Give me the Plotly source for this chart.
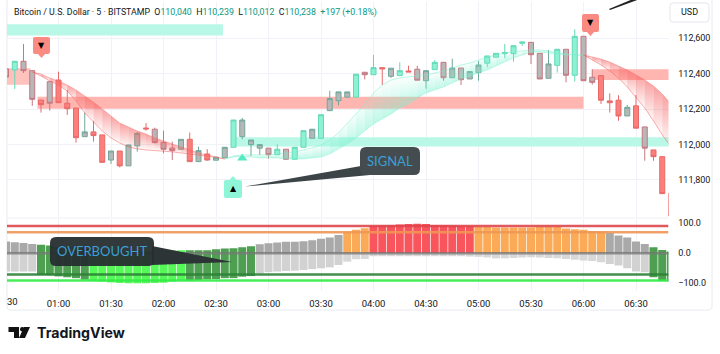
import pandas as pd
import plotly.graph_objects as go

W, H = 720, 354
times = pd.date_range("2025-01-01 00:30", "2025-01-01 06:50", freq="5min")

# candle styles: T teal, R red, GT grey body with teal edge, GR grey body with red edge
styles = ["GR","T","GR","GR","R","GR","R","R","R","GT","R","R","GT","R","GT","GT","R","GR","GR","GR","GT","R","GT","R","GT","GT",
          "T","GT","GT","GT","GR","T","GR","T","T","GT","T","GT","GT","GT","T","GR","T","R","GT","T","R","GR","GT","T","GR","GT","GR","GT",
          "GT","T","T","T","T","T","GR","GR","GT","T","GR","T","GR","GR","R","R","R","GT","R","GR","R","R","R"]
body_top = [112427,112470,112470,112417,112251,112355,112364,112233,112206,112071,112071,112054,111963,111963,111997,112063,112093,112086,112012,111980,112029,112029,111965,111946,111928,111984,
            112138,112138,112025,111999,111979,111973,111973,111984,112078,112086,112168,112259,112297,112297,112397,112408,112434,112434,112431,112417,112415,112425,112417,112464,112464,112432,112432,112412,
            112449,112500,112515,112519,112558,112579,112577,112515,112455,112538,112538,112611,112611,112380,112389,112246,112250,112210,112218,112099,111969,111931,111724]
body_bot = [112381,112421,112417,112255,112225,112233,112236,112202,112038,112044,112050,111899,111912,111879,111879,111992,112088,112010,111973,111965,111973,111903,111903,111912,111911,111925,
            111984,112044,111999,111979,111942,111942,111916,111916,111984,112035,112035,112191,112247,112267,112267,112394,112394,112427,112385,112389,112410,112363,112360,112423,112377,112377,112366,112370,
            112406,112459,112493,112513,112513,112572,112507,112370,112374,112447,112391,112391,112360,112351,112250,112236,112161,112161,112092,111979,111931,111722,111596]
wick_high = [112432,112470,112568,112417,112251,112355,112411,112308,112206,112180,112133,112054,111963,111963,111997,112072,112121,112095,112078,112016,112029,112067,111988,111973,111928,111984,
             112138,112150,112025,111999,111979,112001,111973,111984,112078,112086,112168,112304,112297,112297,112397,112408,112506,112434,112431,112464,112445,112444,112417,112477,112464,112485,112432,112412,
             112472,112500,112515,112568,112558,112579,112577,112515,112534,112538,112538,112651,112611,112425,112389,112289,112278,112223,112280,112099,111969,111931,111724]
wick_low = [112376,112314,112404,112218,112180,112191,112236,112167,112010,112044,112016,111899,111890,111870,111879,111959,112078,112006,111950,111912,111973,111903,111903,111908,111911,111925,
            111984,112029,111935,111941,111920,111942,111916,111916,111984,112035,112035,112191,112221,112267,112267,112368,112394,112336,112376,112389,112410,112363,112315,112423,112360,112377,112336,112370,
            112360,112436,112493,112487,112468,112557,112455,112370,112374,112406,112351,112355,112360,112338,112229,112180,112134,112161,112092,111908,111908,111722,111596]

# ribbons: bars they span, strong edge and faint edge
red1_start, red1_upper, red1_lower = "2025-01-01 00:45", [112410,112398,112376,112359,112336,112308,112274,112240,112201,112161,112121,112099,112076,112059,112037,112020,112003,111986,111969,111952,111941,111929,111918], [112410,112387,112359,112336,112302,112246,112178,112127,112076,112037,112008,111986,111975,111969,111966,111963,111958,111952,111946,111941,111935,111927,111918]
teal_start = "2025-01-01 02:35"
teal_upper = [111918,111935,111941,111941,111941,111941,111946,111952,111958,111969,111980,111997,112025,112065,112116,112172,112229,112291,112336,112364,112376,112381,112387,112393,112404,112415,112432,112449,112460,112477,112494,112506,112517,112523,112528,112534,112534,112528,112517,112511,112506,112506]
teal_lower = [111918,111929,111929,111929,111924,111924,111924,111918,111918,111918,111924,111929,111946,111975,112003,112037,112076,112116,112144,112172,112206,112229,112263,112291,112308,112325,112347,112370,112387,112404,112421,112444,112466,112489,112506,112523,112523,112517,112511,112506,112506,112506]
red2_start = "2025-01-01 06:00"
red2_upper = [112506,112494,112483,112466,112443,112421,112393,112364,112330,112285,112229]
red2_lower = [112506,112477,112449,112415,112375,112325,112268,112206,112133,112054,111986]

# supply/demand zones: start, end, top price, bottom price, colour
zone_start = ["2025-01-01 00:28","2025-01-01 00:28","2025-01-01 00:48","2025-01-01 02:40","2025-01-01 06:05"]
zone_end   = ["2025-01-01 02:34","2025-01-01 00:44","2025-01-01 06:00","2025-01-01 06:52","2025-01-01 06:52"]
zone_top   = [112679,112430,112270,112041,112425]
zone_bot   = [112615,112338,112202,111988,112364]
zone_color = ["#b9f8e6","#ffc2bd","#ffb6b1","#b9f8e6","#ffb6b1"]

# oscillator
osc_up = [39,37,34,31,28,26,22,20,19,17,14,12,11,10,9,8,8,8,9,9,10,10,10,10,13,16,
          17,20,23,30,33,36,38,38,40,43,48,52,61,70,78,83,91,92,93,96,97,98,97,94,93,92,91,90,
          87,87,86,86,86,86,86,87,87,87,82,80,78,74,72,67,59,52,39,31,20,11,6]
osc_down = [-61,-61,-61,-61,-72,-73,-77,-80,-83,-88,-92,-94,-97,-99,-100,-100,-100,-99,-98,-94,-91,-91,-89,-87,-86,-83,
            -83,-78,-76,-67,-63,-61,-59,-58,-56,-53,-50,-47,-39,-28,-20,-19,-10,-10,-10,-10,-10,-10,-10,-10,-10,-10,-10,-11,
            -12,-14,-17,-17,-16,-14,-13,-14,-16,-17,-19,-22,-24,-26,-30,-36,-41,-50,-61,-63,-80,-92,-94]
osc_zone = ["g"]*4+["d"]*6+["l"]*11+["d"]*8+["g"]*10+["o"]*3+["r"]*12+["o"]*15+["g"]*5+["d"]*3
osc_levels = [91,70,0,-71,-91]
osc_level_colors = ["rgba(222,70,75,.9)","rgba(238,150,85,.9)","rgba(115,115,115,.75)","rgba(45,130,55,.9)","rgba(50,235,70,.9)"]

price_ticks = [111800,112000,112200,112400,112600]
osc_ticks = [100,0,-100]
osc_tick_text = ["100.0","0.0","−100.0"]
time_ticks = ["01:00","01:30","02:00","02:30","03:00","03:30","04:00","04:30","05:00","05:30","06:00","06:30"]

LEFT, RIGHT = 7, 668.5
TOP1, BOT1, TOP2, BOT2 = 2, 217, 219, 291
PX_PER_MIN = 8.75/5
t0 = pd.Timestamp("2025-01-01 01:00")
def xr(px):
    return t0 + pd.Timedelta(minutes=(px-58.5)/PX_PER_MIN)

def fx(px): return px/W
def fy(py): return 1-py/H

fig = go.Figure()

def ribbon(start, strong, faint, rgb, strong_on_top, alpha):
    ts = pd.date_range(start, periods=len(strong), freq="5min")
    for i in range(len(ts)-1):
        a, b = strong[i], strong[i+1]
        c, d = faint[i], faint[i+1]
        if a == c and b == d:
            continue
        opaque, clear = f"rgba({rgb},{alpha})", f"rgba({rgb},0.02)"
        scale = [[0,clear],[1,opaque]] if strong_on_top else [[0,opaque],[1,clear]]
        fig.add_trace(go.Scatter(x=[ts[i],ts[i+1],ts[i+1],ts[i],ts[i]], y=[a,b,d,c,a], mode="lines", line=dict(width=0),
                                 fill="toself", fillgradient=dict(type="vertical",colorscale=scale),
                                 hoverinfo="skip", showlegend=False))
    fig.add_trace(go.Scatter(x=ts,y=faint,mode="lines",line=dict(color=f"rgba({rgb},.5)",width=1),hoverinfo="skip"))
    fig.add_trace(go.Scatter(x=ts,y=strong,mode="lines",line=dict(color=f"rgba({rgb},.35)",width=1),hoverinfo="skip"))

ribbon(red1_start, red1_upper, red1_lower, "245,95,95", True, .6)
ribbon(teal_start, teal_lower, teal_upper, "120,240,205", False, .5)
ribbon(red2_start, red2_upper, red2_lower, "245,95,95", True, .6)

style_colors = {"T":("#8df2d3","#63d8b6"),"R":("#fb7f7a","#e9696a"),
                "GT":("#b7b7b7","#6fa89b"),"GR":("#b7b7b7","#c87680")}
for key,(fill,edge) in style_colors.items():
    up = key in ("T","GT")
    o,h,l,c = [],[],[],[]
    for s,t,b,hi,lo in zip(styles,body_top,body_bot,wick_high,wick_low):
        if s==key:
            o.append(b if up else t); c.append(t if up else b); h.append(hi); l.append(lo)
        else:
            o.append(None); c.append(None); h.append(None); l.append(None)
    side = dict(fillcolor=fill,line=dict(color=edge,width=1))
    fig.add_trace(go.Candlestick(x=times,open=o,high=h,low=l,close=c,increasing=side,decreasing=side,
                                 whiskerwidth=0,hoverinfo="skip",showlegend=False,xaxis="x",yaxis="y"))

signal_time = ["2025-01-01 02:45"]
signal_price = [111922]
fig.add_trace(go.Scatter(x=signal_time,y=signal_price,mode="markers",marker=dict(symbol="triangle-up",size=9,color="#55e9c4"),hoverinfo="skip"))

zone_colors_up = {"g":"#a9a9a9","d":"#4f9f52","l":"#56f858","o":"#fbab57","r":"#f9555c"}
zone_colors_dn = {"g":"#d2d2d2","d":"#4f9f52","l":"#56f858","o":"#d8d8d8","r":"#d8d8d8"}
fig.add_trace(go.Bar(x=times,y=osc_up,marker=dict(color=[zone_colors_up[z] for z in osc_zone],line=dict(width=0)),xaxis="x2",yaxis="y2",hoverinfo="skip"))
fig.add_trace(go.Bar(x=times,y=osc_down,marker=dict(color=[zone_colors_dn[z] for z in osc_zone],line=dict(width=0)),xaxis="x2",yaxis="y2",hoverinfo="skip"))
for lv,col in zip(osc_levels,osc_level_colors):
    fig.add_trace(go.Scatter(x=[xr(LEFT),xr(RIGHT)],y=[lv,lv],mode="lines",line=dict(color=col,width=2.5),xaxis="x2",yaxis="y2",hoverinfo="skip"))

shapes=[]
for s,e,t,b,c in zip(zone_start,zone_end,zone_top,zone_bot,zone_color):
    shapes.append(dict(type="rect",xref="x",yref="y",x0=s,x1=e,y0=b,y1=t,fillcolor=c,line=dict(width=0),layer="between"))

def rounded(x0,y0,x1,y1,r):
    P=lambda x,y:f"{fx(x):.5f},{fy(y):.5f}"
    return (f"M{P(x0+r,y0)}L{P(x1-r,y0)}Q{P(x1,y0)} {P(x1,y0+r)}L{P(x1,y1-r)}Q{P(x1,y1)} {P(x1-r,y1)}"
            f"L{P(x0+r,y1)}Q{P(x0,y1)} {P(x0,y1-r)}L{P(x0,y0+r)}Q{P(x0,y0)} {P(x0+r,y0)}Z")
def poly(pts):
    return "M"+"L".join(f"{fx(x):.5f},{fy(y):.5f}" for x,y in pts)+"Z"
def overlay(path,fill,line=None,layer="above"):
    shapes.append(dict(type="path",xref="paper",yref="paper",path=path,fillcolor=fill,
                       line=dict(width=1 if line else 0,color=line or "rgba(0,0,0,0)"),layer=layer))

# chart frame and pane separator
overlay(rounded(7,-2,712,310,4),"rgba(0,0,0,0)","#e8eaf0","below")
shapes.append(dict(type="line",xref="paper",yref="paper",x0=fx(7),x1=fx(668),y0=fy(218),y1=fy(218),line=dict(color="#eceef3",width=1),layer="below"))
overlay(rounded(670,3,709,22,3),"#ffffff","#e4e6ec")

# flags
for x0,x1,y0,y1,down,color in [(33,50,37,54,True,"#fa8b82"),(582,599,14,32,True,"#fa8b82"),(224,242,180,198,False,"#8ff5d8")]:
    overlay(rounded(x0,y0,x1,y1,2),color)
    mid=(x0+x1)/2
    if down: overlay(poly([(mid-4,y1-.5),(mid+4,y1-.5),(mid,y1+4)]),color)
    else: overlay(poly([(mid-4,y0+.5),(mid+4,y0+.5),(mid,y0-4)]),color)

# callouts
overlay(poly([(361,166),(370,175),(245,186.5)]),"#3d4448")
overlay(rounded(360,147,420,175,6),"#444c50")
overlay(poly([(152,246),(152,265),(232,262)]),"#2d3436")
overlay(rounded(50,237,154,266,6),"rgba(38,46,48,.95)")
overlay(poly([(609,9),(633,-1),(640,-1),(610,10)]),"#222222")

# TradingView logo
overlay(poly([(8.5,327),(19,327),(19,338),(14,338),(14,332),(8.5,332)]),"#111111")
overlay(rounded(20,327,24.5,331.5,2.2),"#111111")
overlay(poly([(24,327),(30,327),(25,338),(19,338)]),"#111111")

BLUE="#3c9fd6"
def note(px,py,text,font,xanchor="center"):
    return dict(x=fx(px),y=fy(py),xref="paper",yref="paper",xanchor=xanchor,yanchor="middle",showarrow=False,text=text,font=font)
ann=[
 note(11.5,12,('<span style="color:#131722">Bitcoin / U.S. Dollar · 5 · BITSTAMP  O</span><span style="color:#089981">110,040</span>'
            '<span style="color:#131722">  H</span><span style="color:#089981">110,239</span><span style="color:#131722">  L</span><span style="color:#089981">110,012</span>'
            '<span style="color:#131722">  C</span><span style="color:#089981">110,238</span><span style="color:#089981">  +197 (+0.18%)</span>'),
      dict(family="Roboto",size=8.8),"left"),
 note(689.5,12.5,"USD",dict(family="Roboto",size=9,color="#131722")),
 note(12.5,301,"30",dict(family="Roboto",size=9.5,color="#131722")),
 note(390,161,"SIGNAL",dict(family="Lato",size=13,color=BLUE)),
 note(102,250.5,"OVERBOUGHT",dict(family="Lato",size=13,color=BLUE)),
 note(34.5,332.5,"<b>TradingView</b>",dict(family="Inter",size=14.2,color="#131722"),"left"),
 note(233,188.5,"▲",dict(family="DejaVu Sans",size=8,color="#000000")),
 note(41.5,45,"▼",dict(family="DejaVu Sans",size=8,color="#000000")),
 note(590.5,22.5,"▼",dict(family="DejaVu Sans",size=8,color="#000000")),
]

grid="#f0f2f7"
tick_font=dict(family="Roboto",size=9,color="#131722")
time_font=dict(family="Roboto",size=9.5,color="#131722")
tick_dates=[f"2025-01-01 {t}" for t in time_ticks]
fig.update_layout(
    width=W,height=H,margin=dict(l=0,r=0,t=0,b=0),paper_bgcolor="white",plot_bgcolor="white",
    showlegend=False,barmode="overlay",boxmode="overlay",boxgap=0.18,bargap=0.08,shapes=shapes,annotations=ann,
    xaxis=dict(domain=[fx(LEFT),fx(RIGHT)],range=[xr(LEFT),xr(RIGHT)],anchor="y",type="date",rangeslider=dict(visible=False),
               tickvals=tick_dates,showticklabels=False,ticks="",showgrid=True,gridcolor=grid,zeroline=False),
    yaxis=dict(domain=[fy(BOT1),fy(TOP1)],range=[111590,112805],side="right",anchor="x",tickvals=price_ticks,tickformat=",.0f",
               ticks="outside",ticklen=7,tickcolor="rgba(0,0,0,0)",showgrid=True,gridcolor=grid,zeroline=False,tickfont=tick_font),
    xaxis2=dict(domain=[fx(LEFT),fx(RIGHT)],range=[xr(LEFT),xr(RIGHT)],anchor="y2",type="date",tickvals=tick_dates,ticktext=time_ticks,
                ticks="",showgrid=True,gridcolor=grid,zeroline=False,tickfont=time_font,ticklabelstandoff=5),
    yaxis2=dict(domain=[fy(BOT2),fy(TOP2)],range=[-125.7,114],side="right",anchor="x2",tickvals=osc_ticks,ticktext=osc_tick_text,
                ticks="outside",ticklen=7,tickcolor="rgba(0,0,0,0)",showgrid=False,zeroline=False,tickfont=tick_font),
)
fig.write_html("out.html",config=dict(displayModeBar=False),post_script="document.body.style.margin='0';document.documentElement.style.overflow='hidden';")
